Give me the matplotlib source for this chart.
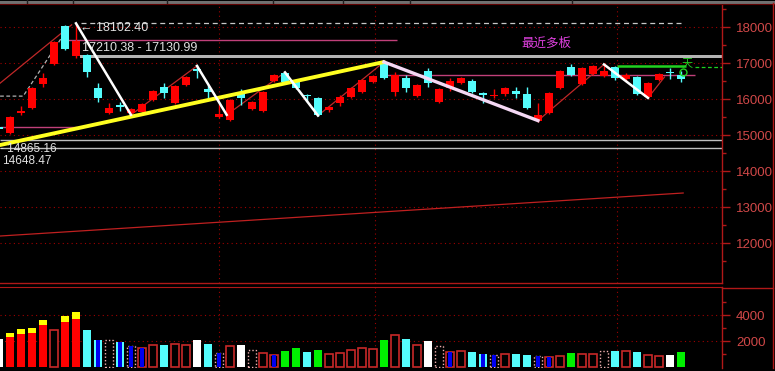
import numpy as np
import matplotlib
matplotlib.use("Agg")
import matplotlib.pyplot as plt
from matplotlib.ticker import FixedLocator

plt.rcParams['font.family'] = ['Liberation Sans', 'Noto Sans CJK SC', 'DejaVu Sans']

# candle index -1 is the partial one cut off at the left edge
idx = np.arange(-1, 62)
opens = [15220, 15060, 15610, 15750, 16420, 16970, 18040, 17190, 17220, 16310,
         15610, 15830, 15610, 15640, 15970, 16330, 15890, 16390, 16820, 16280,
         15500, 15420, 16190, 15720, 15670, 16500, 16720, 16500, 16110, 16030,
         15700, 15890, 16060, 16190, 16470, 17000, 16190, 16580, 16080, 16780,
         15920, 16310, 16440, 16500, 16150, 16070, 16140, 16220, 16140, 15390,
         15610, 16310, 16890, 16420, 16690, 16640, 16890, 16560, 16610, 16060,
         16530, 16740, 16670]
closes = [15170, 15500, 15670, 16310, 16580, 17580, 17390, 17610, 16750, 16030,
          15750, 15780, 15720, 15860, 16220, 16170, 16360, 16610, 16790, 16190,
          15580, 15970, 16030, 15920, 16190, 16670, 16470, 16310, 16080, 15560,
          15780, 16060, 16310, 16530, 16640, 16580, 16670, 16310, 16390, 16440,
          16280, 16500, 16580, 16190, 16120, 16100, 16310, 16140, 15750, 15560,
          16170, 16780, 16670, 16860, 16920, 16780, 16580, 16670, 16140, 16440,
          16690, 16710, 16560]
highs = [15280, 15530, 15810, 16330, 16720, 17610, 18060, 18102, 17250, 16440,
         15890, 15920, 15750, 15890, 16250, 16440, 16390, 16640, 16940, 16390,
         15860, 16000, 16280, 15950, 16220, 16700, 16750, 16530, 16140, 16060,
         15810, 16110, 16330, 16560, 16670, 17030, 16750, 16670, 16420, 16860,
         16310, 16580, 16610, 16560, 16190, 16280, 16330, 16330, 16330, 15890,
         16190, 16810, 16970, 16890, 16940, 16960, 16920, 16720, 16640, 16470,
         16720, 16860, 16780]
lows = [15110, 15030, 15560, 15720, 16330, 16940, 17360, 17130, 16610, 15920,
        15580, 15670, 15560, 15610, 15940, 16030, 15860, 16360, 16580, 16000,
        15470, 15400, 15830, 15690, 15640, 16470, 16440, 16280, 15920, 15530,
        15640, 15810, 16030, 16170, 16440, 16560, 16080, 16190, 16060, 16330,
        15890, 16220, 16420, 16170, 15890, 16030, 16080, 16030, 15720, 15360,
        15580, 16280, 16640, 16390, 16670, 16610, 16530, 16470, 16110, 16030,
        16500, 16560, 16470]

volumes = [2150, 2600, 2900, 3000, 3600, 2850, 3900, 4200, 2850, 2080,
           2050, 1920, 1640, 1460, 1690, 1690, 1770, 1690, 2080, 1770,
           1100, 1610, 1690, 1300, 1080, 920, 1230, 1460, 1150, 1300,
           1000, 1080, 1300, 1460, 1380, 2080, 2460, 2150, 1690, 2000,
           1610, 1150, 1230, 1150, 1000, 920, 1000, 1000, 920, 850,
           770, 850, 1080, 1000, 1000, 1230, 1230, 1230, 1150, 920,
           850, 920, 1150]
vol_style = ['w', 'r', 'r', 'r', 'r', 'h', 'r', 'r', 'c', 'b',
             'd', 'b', 'bd', 'br', 'h', 'c', 'h', 'h', 'w', 'c',
             'bd', 'h', 'w', 'd', 'h', 'br', 'g', 'g', 'c', 'g',
             'h', 'h', 'h', 'h', 'h', 'g', 'h', 'c', 'h', 'w',
             'd', 'br', 'h', 'c', 'b', 'bd', 'h', 'c', 'c', 'bd',
             'br', 'h', 'g', 'h', 'h', 'd', 'c', 'h', 'c', 'h',
             'h', 'w', 'g']
vol_cap = [0, 310, 380, 380, 380, 0, 460, 540] + [0] * 55

# zigzag / trend lines (candle index, price)
yellow_x, yellow_y = [-0.9, 34], [14722, 17028]
lav_x, lav_y = [34, 48], [17028, 15400]
white_legs = [([6, 11], [18102, 15560]), ([17, 19.7], [16920, 15560]),
              ([25, 28], [16740, 15540]), ([54, 58], [16960, 16030])]
red_legs = [([-0.9, 5.6], [16440, 18060]), ([11, 17], [15560, 16920]),
            ([19.7, 25], [15560, 16740]), ([28, 34], [15540, 17028]),
            ([48, 54], [15400, 16960]), ([58, 59.5], [16030, 16610])]
grey_dash_x, grey_dash_y = [-0.9, 1.2, 4.9], [16080, 16080, 17800]
long_x, long_y = [-0.9, 61.2], [12194, 13389]
month_marks = [19, 33.2, 55.2]

W, H = 775, 371
XL = (-0.909, 64.73)
fig = plt.figure(figsize=(W / 100, H / 100), dpi=100, facecolor='black')
ax = fig.add_axes([0, (H - 283) / H, 722 / W, 279 / H], facecolor='black')
axv = fig.add_axes([0, 3 / H, 722 / W, 81 / H], facecolor='black')

RED = '#ff0000'
CYAN = '#54fcfc'
GRID = '#a00000'
AXC = '#b01818'
LBL = '#d04848'

# grid
for y in range(12000, 18001, 1000):
    ax.axhline(y, color=GRID, lw=0.8, ls=(0, (1, 3)), zorder=1)
for v in (2000, 4000):
    axv.axhline(v, color=GRID, lw=0.8, ls=(0, (1, 3)), zorder=1)
for m in month_marks:
    ax.axvline(m, color=GRID, lw=0.8, ls=(0, (1, 3)), zorder=1)
    axv.axvline(m, color=GRID, lw=0.8, ls=(0, (1, 3)), zorder=1)

# horizontal levels
ax.hlines(18102, 6.5, 61.1, color='#c8c8c8', lw=0.9, ls=(0, (4, 3)), zorder=2)
ax.fill_between([6.4, XL[1]], 17131, 17210, color='#b4b4b4', lw=0, zorder=2)
ax.hlines(17640, 5, 35.2, color='#c0407a', lw=1.0, zorder=2)
ax.hlines(16660, 34.1, 62.3, color='#c0407a', lw=1.0, zorder=2)
ax.hlines(15220, XL[0], 6.1, color='#c0407a', lw=1.0, zorder=2)
ax.hlines([14865.16, 14648.47], XL[0], XL[1], color='#c0c0c0', lw=1.0, zorder=2)
ax.hlines(16917, 55.2, 61.5, color='#20d020', lw=1.8, zorder=5)
ax.hlines(16889, 62.3, XL[1], color='#20d020', lw=0.9, ls=(0, (3, 2)), zorder=5)

ax.plot(long_x, long_y, color='#c02020', lw=0.9, zorder=2)
ax.plot(grey_dash_x, grey_dash_y, color='#b0b0b0', lw=0.9, ls=(0, (3, 2)), zorder=2)
for xs, ys in red_legs:
    ax.plot(xs, ys, color='#c02828', lw=0.9, zorder=3)

# candles
o = np.array(opens); c = np.array(closes)
up = c >= o
cols = np.where(up, RED, CYAN)
ax.vlines(idx, lows, highs, colors=cols, lw=1.0, zorder=4)
bot = np.minimum(o, c)
hgt = np.maximum(np.abs(c - o), 35)
ax.bar(idx, hgt, 0.8, bottom=bot, color=cols, lw=0, zorder=4)

ax.plot(yellow_x, yellow_y, color='#ffff20', lw=2.8, zorder=6, solid_capstyle='round')
ax.plot(lav_x, lav_y, color='#f4d8f4', lw=2.4, zorder=6)
for xs, ys in white_legs:
    ax.plot(xs, ys, color='white', lw=1.8, zorder=6)

# texts
txt = dict(color='#e0e0e0', fontsize=9, va='center', ha='left', zorder=7)
ax.text(6.35, 17972, '\u2190 18102.40', **txt)
ax.text(6.55, 17417, '17210.38 - 17130.99', **txt)
txt['fontsize'] = 8.5
ax.text(-0.93, 14610, '- 14865.16', **txt)
ax.text(-0.75, 14290, '14648.47', **txt)
ax.text(46.5, 17556, '最近多板', color='#e040e0', fontsize=9, va='center',
        ha='left', family=['Noto Sans CJK SC', 'DejaVu Sans'], zorder=7)
ax.text(61.6, 16972, '天', color='#20d020', fontsize=8, va='center',
        ha='center', family=['Noto Sans CJK SC', 'DejaVu Sans'], zorder=7)
ax.plot([61.2], [16760], marker='o', ms=5, mfc='none', mec='#20d020', mew=1.0, zorder=7)

# volume bars
for k, v, st, cap in zip(idx, volumes, vol_style, vol_cap):
    if st == 'r':
        axv.bar(k, v, 0.8, color=RED, lw=0, zorder=3)
        if cap:
            axv.bar(k, cap, 0.8, bottom=v - cap, color='#ffff00', lw=0, zorder=4)
    elif st == 'h':
        axv.bar(k, v, 0.72, facecolor='black', edgecolor='#c82828', lw=1.2, zorder=3)
    elif st in ('c', 'w', 'g'):
        col = {'c': CYAN, 'w': 'white', 'g': '#00f000'}[st]
        axv.bar(k, v, 0.8, color=col, lw=0, zorder=3)
    elif st == 'd':
        axv.bar(k, v, 0.72, facecolor='black', edgecolor='#f0b0b0', lw=1.0,
                ls=(0, (1, 1.5)), zorder=3)
    else:
        if st == 'b':
            axv.bar(k, v, 0.8, color=CYAN, lw=0, zorder=3)
        elif st == 'bd':
            axv.bar(k, v, 0.72, facecolor='black', edgecolor='#f0b0b0', lw=1.0,
                    ls=(0, (1, 1.5)), zorder=3)
        else:
            axv.bar(k, v, 0.72, facecolor='black', edgecolor='#c82828', lw=1.2, zorder=3)
        axv.bar(k, v, 0.42, color='#0000f0', lw=0, zorder=4)

# axes styling
for a, yl in ((ax, (10889, 18639)), (axv, (-77, 6154))):
    a.set_xlim(*XL)
    a.set_ylim(*yl)
    a.set_xticks([])
    for s in ('left', 'top'):
        a.spines[s].set_visible(False)
    for s in ('right', 'bottom'):
        a.spines[s].set_color(AXC)
        a.spines[s].set_linewidth(1.0)
    a.yaxis.tick_right()
    a.tick_params(axis='y', which='major', direction='out', length=6, width=1,
                  color=AXC, labelcolor=LBL, labelsize=9.5, pad=4)
    a.tick_params(axis='y', which='minor', direction='out', length=3, width=1, color=AXC)
axv.spines['bottom'].set_visible(False)
axv.spines['top'].set_visible(True)
axv.spines['top'].set_color(AXC)

ax.yaxis.set_major_locator(FixedLocator(range(12000, 18001, 1000)))
ax.yaxis.set_minor_locator(FixedLocator(range(11500, 18501, 1000)))
axv.yaxis.set_major_locator(FixedLocator([2000, 4000]))
axv.yaxis.set_minor_locator(FixedLocator([1000, 3000, 5000]))

# header strip and right border
fig.add_artist(plt.Line2D([0, 1], [1 - 1.5 / H, 1 - 1.5 / H], color='#707070', lw=2.2))
for sx in (27, 73, 167, 273, 343, 410, 572):
    fig.add_artist(plt.Line2D([sx / W, sx / W], [1 - 3 / H, 1], color='#202020', lw=1))
fig.add_artist(plt.Line2D([0, 1], [1 - 3.5 / H, 1 - 3.5 / H], color='#600000', lw=0.8))
fig.add_artist(plt.Line2D([772.5 / W, 772.5 / W], [3 / H, 1 - 3 / H], color=AXC, lw=1))
fig.add_artist(plt.Line2D([722 / W, 772.5 / W], [(H - 287.5) / H, (H - 287.5) / H], color=AXC, lw=1))

fig.savefig('out.png', dpi=100, facecolor='black')
